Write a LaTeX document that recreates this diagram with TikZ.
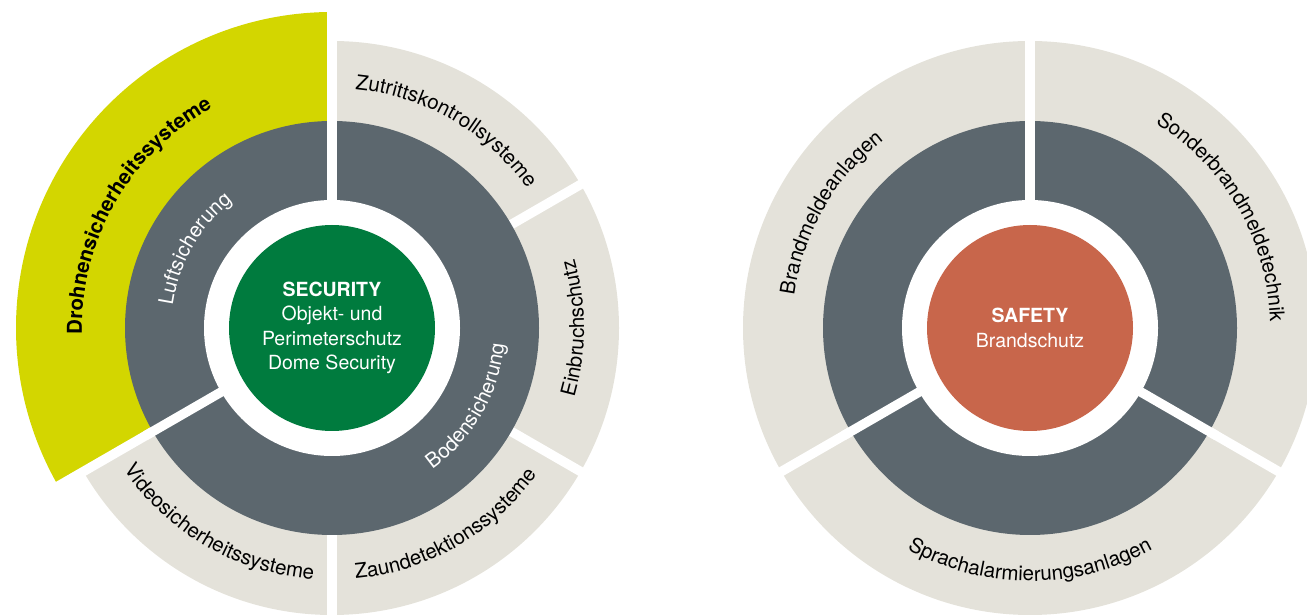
\documentclass[tikz,border=0pt]{standalone}
\usepackage{fontspec}
\setmainfont{TeX Gyre Heros}
\usepackage{tikz}
\usetikzlibrary{calc, decorations.text}

\definecolor{ringgray}{HTML}{5C676E}
\definecolor{ringbeige}{HTML}{E4E2DA}
\definecolor{dronelime}{HTML}{D3D600}
\definecolor{secgreen}{HTML}{007B3E}
\definecolor{safered}{HTML}{C8664B}

\newcommand{\lblfont}{\fontsize{20.5}{24}\selectfont}

\begin{document}
\begin{tikzpicture}[x=1pt, y=1pt,
  gap/.style={white, line width=9.5pt},
  core/.style={circle, minimum size=206pt, inner sep=0pt, text=white, align=center,
    font=\fontsize{19.5}{24.5}\selectfont},
  arclabel/.style={decorate, decoration={text along path, text align=center, text={#1}}}]
  \useasboundingbox (0,0) rectangle (1307,616);
  \clip (0,0) rectangle (1307,616);
  \coordinate (sec) at (332,288);
  \coordinate (saf) at (1030,288);

  % SECURITY: aeusserer Ring, Drohnen-Segment
  \fill[ringbeige] (sec) circle (287);
  \fill[dronelime] (sec) -- ($(sec)+(90:316)$) arc[start angle=90, end angle=210, radius=316] -- cycle;
  \foreach \a in {90,210,30,-30,270}
    \draw[gap] (sec) -- ($(sec)+(\a:330)$);
  % mittlerer Ring
  \fill[ringgray] (sec) circle (207);
  \foreach \a in {90,210}
    \draw[gap] (sec) -- ($(sec)+(\a:215)$);
  \fill[white] (sec) circle (128);
  \node[core, fill=secgreen] (secCore) at (sec)
    {\textbf{SECURITY}\\Objekt- und\\Perimeterschutz\\Dome Security};
  % Beschriftungen entlang der Ringe
  \path[arclabel={|\lblfont\bfseries|Drohnensicherheitssysteme}]
    ($(sec)+(210:250)$) arc[start angle=210, end angle=90, radius=250];
  \path[arclabel={|\lblfont|Zutrittskontrollsysteme}]
    ($(sec)+(90:240)$) arc[start angle=90, end angle=30, radius=240];
  \path[arclabel={|\lblfont|Einbruchschutz}]
    ($(sec)+(-30:252)$) arc[start angle=-30, end angle=30, radius=252];
  \path[arclabel={|\lblfont|Zaundetektionssysteme}]
    ($(sec)+(-90:252)$) arc[start angle=-90, end angle=-30, radius=252];
  \path[arclabel={|\lblfont|Videosicherheitssysteme}]
    ($(sec)+(210:252)$) arc[start angle=210, end angle=270, radius=252];
  \path[arclabel={|\lblfont\color{white}|Luftsicherung}]
    ($(sec)+(210:161)$) arc[start angle=210, end angle=90, radius=161];
  \path[arclabel={|\lblfont\color{white}|Bodensicherung}]
    ($(sec)+(-150:173)$) arc[start angle=-150, end angle=90, radius=173];

  % SAFETY
  \fill[ringbeige] (saf) circle (287);
  \foreach \a in {90,210,330}
    \draw[gap] (saf) -- ($(saf)+(\a:330)$);
  \fill[ringgray] (saf) circle (207);
  \foreach \a in {90,210,330}
    \draw[gap] (saf) -- ($(saf)+(\a:215)$);
  \fill[white] (saf) circle (128);
  \node[core, fill=safered] (safCore) at (saf) {\textbf{SAFETY}\\Brandschutz};
  \path[arclabel={|\lblfont|Brandmeldeanlagen}]
    ($(saf)+(210:238)$) arc[start angle=210, end angle=90, radius=238];
  \path[arclabel={|\lblfont|Sonderbrandmeldetechnik}]
    ($(saf)+(90:240)$) arc[start angle=90, end angle=-30, radius=240];
  \path[arclabel={|\lblfont|Sprachalarmierungsanlagen}]
    ($(saf)+(210:253)$) arc[start angle=210, end angle=330, radius=253];
\end{tikzpicture}
\end{document}
